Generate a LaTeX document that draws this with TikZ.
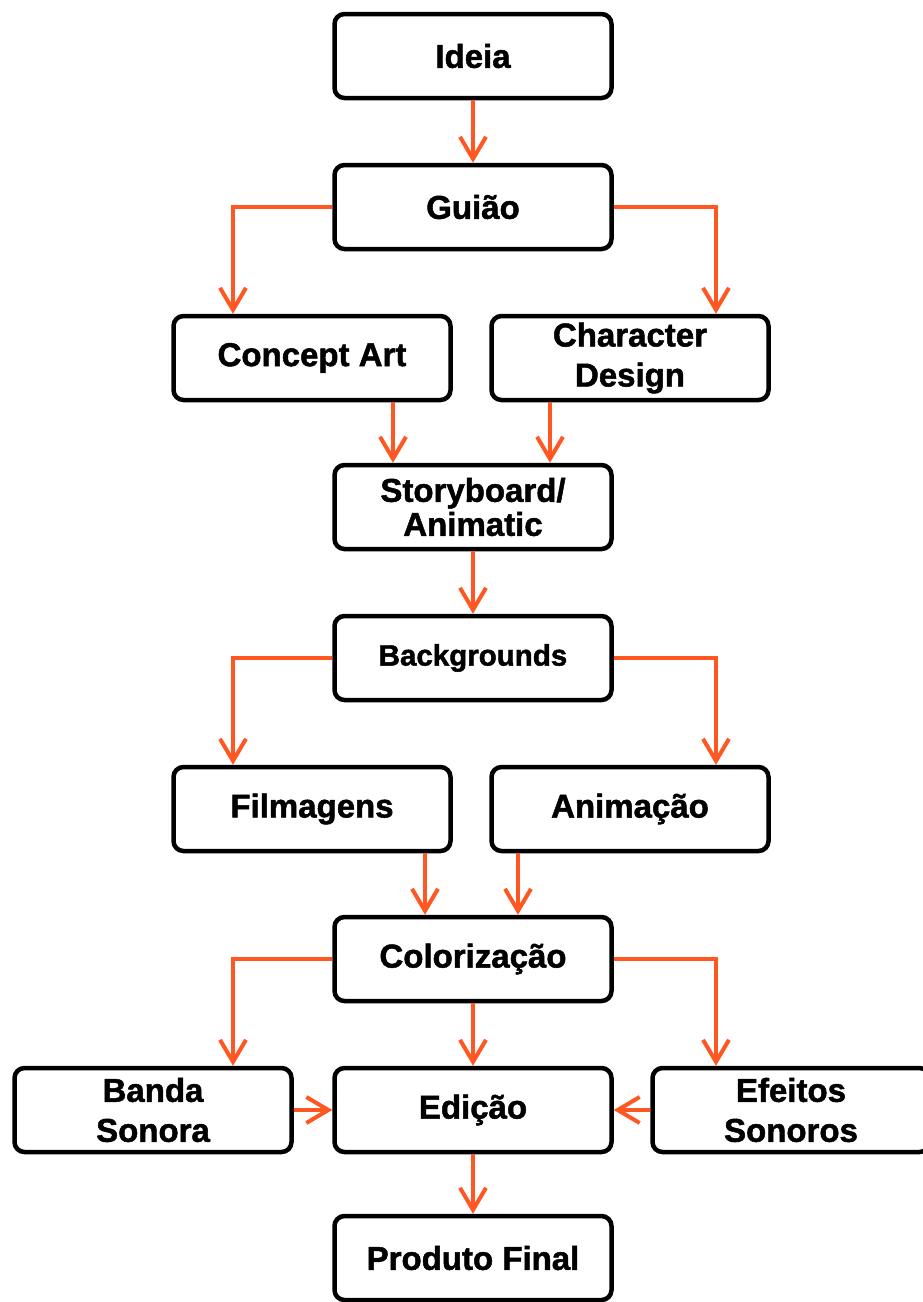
\documentclass[tikz,border=0pt]{standalone}
\usepackage{fontspec}
\setmainfont[BoldFeatures={FakeBold=1.5}]{Liberation Sans}
\usetikzlibrary{arrows.meta}
\definecolor{flowred}{RGB}{255,87,34}

\begin{document}
\begin{tikzpicture}[x=1pt,y=-1pt,
    stage/.style={draw, line width=4.5pt, rounded corners=10pt, minimum width=277pt,
        minimum height=84pt, align=center, font=\bfseries\fontsize{33}{40}\selectfont},
    flow/.style={draw=flowred, line width=4pt, -{Straight Barb[length=22pt,width=26pt]}}]
\useasboundingbox (0,0) rectangle (922,1302);
    \node[stage] (ideia) at (473,56) {Ideia};
    \node[stage] (guiao) at (473,207) {Guião};
    \node[stage] (concept) at (312,358) {Concept Art};
    \node[stage] (chardes) at (630,358) {Character\\Design};
    \node[stage, font=\bfseries\fontsize{33}{34}\selectfont] (story) at (473,507) {Storyboard/\\Animatic};
    \node[stage, font=\bfseries\fontsize{29.5}{36}\selectfont] (backgr) at (473,658) {Backgrounds};
    \node[stage] (filmag) at (312,809) {Filmagens};
    \node[stage] (animac) at (630,809) {Animação};
    \node[stage] (color) at (473,959) {Colorização};
    \node[stage] (banda) at (153,1110) {Banda\\Sonora};
    \node[stage] (edicao) at (473,1110) {Edição};
    \node[stage] (efeitos) at (791,1110) {Efeitos\\Sonoros};
    \node[stage] (final) at (473,1258) {Produto Final};
    % main line
    \draw[flow] (ideia) -- (guiao);
    \draw[flow] (guiao.west) -| ([xshift=-79pt]concept.north);
    \draw[flow] (guiao.east) -| ([xshift=86pt]chardes.north);
    \draw[flow] ([xshift=81pt]concept.south) -- ([xshift=81pt]concept.south |- story.north);
    \draw[flow] ([xshift=-80pt]chardes.south) -- ([xshift=-80pt]chardes.south |- story.north);
    \draw[flow] (story) -- (backgr);
    \draw[flow] (backgr.west) -| ([xshift=-79pt]filmag.north);
    \draw[flow] (backgr.east) -| ([xshift=86pt]animac.north);
    \draw[flow] ([xshift=113pt]filmag.south) -- ([xshift=113pt]filmag.south |- color.north);
    \draw[flow] ([xshift=-112pt]animac.south) -- ([xshift=-112pt]animac.south |- color.north);
    % sound and editing
    \draw[flow] (color.west) -| ([xshift=80pt]banda.north);
    \draw[flow] (color) -- (edicao);
    \draw[flow] (color.east) -| ([xshift=-75pt]efeitos.north);
    \draw[flow] (banda.east) -- (edicao.west);
    \draw[flow] (efeitos.west) -- (edicao.east);
    \draw[flow] (edicao) -- (final);
\end{tikzpicture}
\end{document}
